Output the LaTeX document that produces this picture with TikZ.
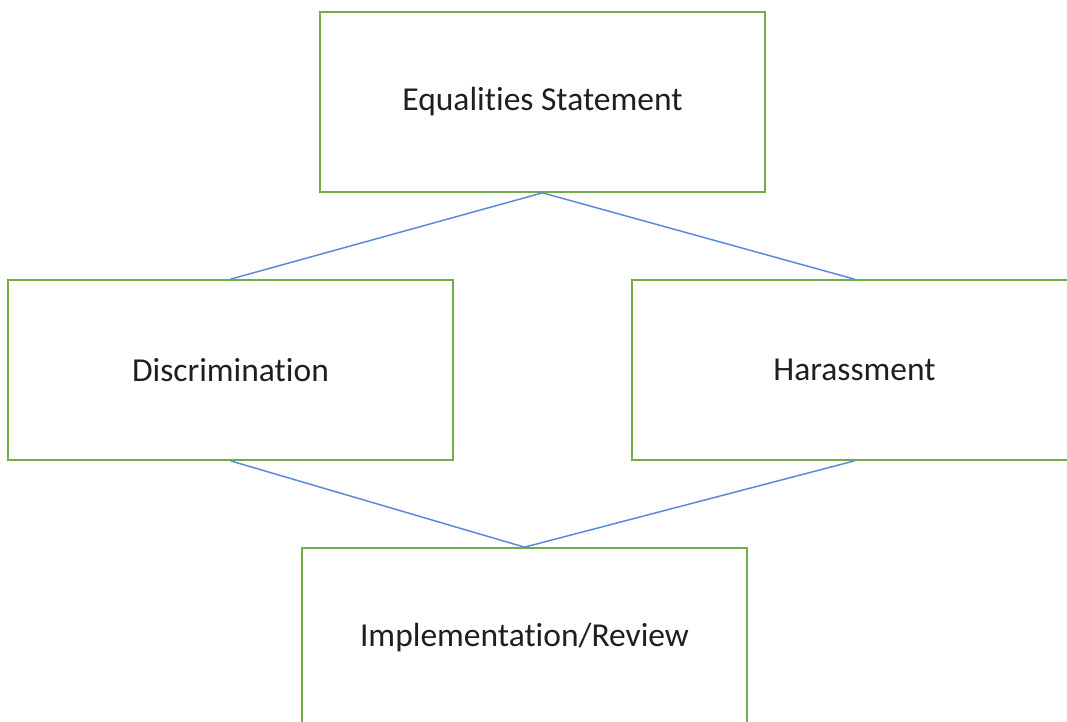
\documentclass[tikz,border=0pt]{standalone}
\usepackage{fontspec}
\setmainfont[Ligatures={NoCommon}]{Carlito}
\definecolor{boxgreen}{HTML}{70AD47}
\definecolor{linkblue}{HTML}{5B8BD9}
\begin{document}
\begin{tikzpicture}[x=1pt,y=-1pt,
  stagebox/.style={draw=boxgreen, line width=1.7pt, fill=white, minimum width=445pt, minimum height=180pt, inner sep=0pt, font=\fontsize{33.5}{40}\selectfont, text=black!88},
  link/.style={draw=linkblue, line width=1.5pt}]
\useasboundingbox (0,0) rectangle (1067,722);
\clip (0,0) rectangle (1067,722);
\fill[white] (0,0) rectangle (1067,722);
\node[stagebox] (eq) at (542.5,102) {Equalities Statement};
\node[stagebox] (dis) at (230.5,370) {Discrimination};
\node[stagebox] (har) at (854.5,370) {Harassment};
\node[stagebox] (imp) at (524.5,638) {Implementation/Review};
\draw[link] (eq.south) -- (dis.north);
\draw[link] (eq.south) -- (har.north);
\draw[link] (dis.south) -- (imp.north);
\draw[link] (har.south) -- (imp.north);
\end{tikzpicture}
\end{document}
